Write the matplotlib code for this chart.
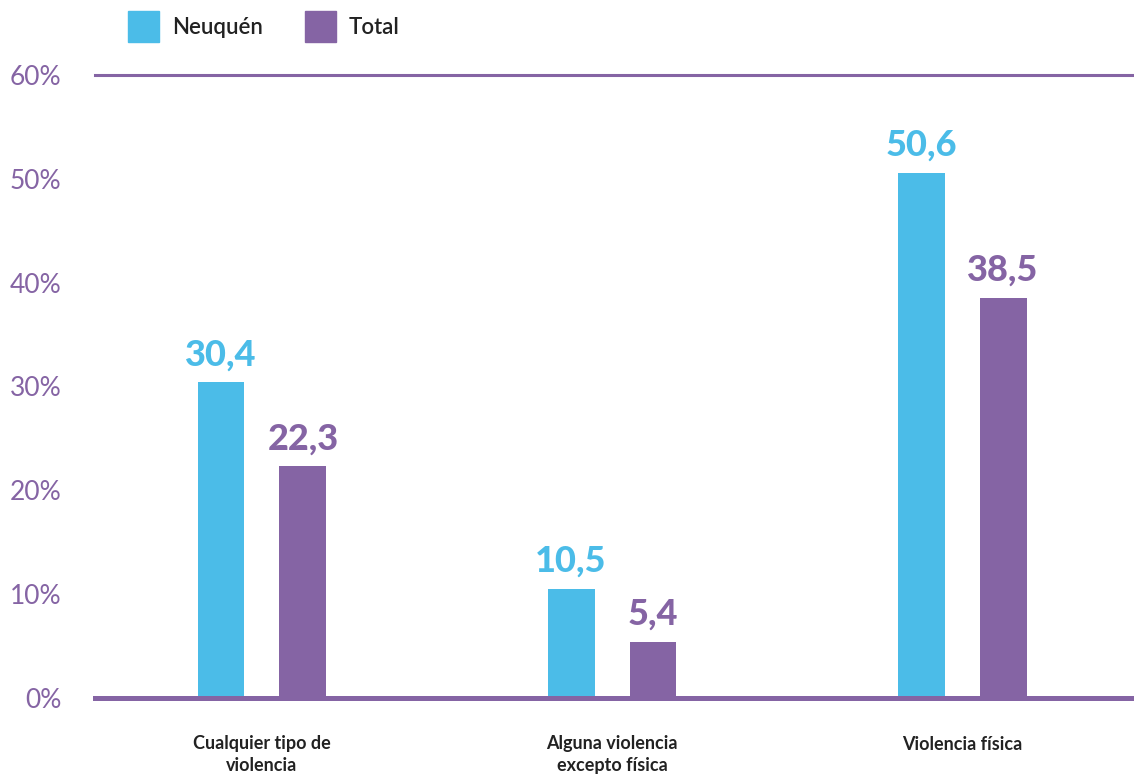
import matplotlib
matplotlib.use("Agg")
import numpy as np
from matplotlib import pyplot as plt
from matplotlib.patches import Rectangle

categories = ["Cualquier tipo de\nviolencia", "Alguna violencia\nexcepto física", "Violencia física"]
neuquen = [30.4, 10.5, 50.6]
total = [22.3, 5.4, 38.5]
series_names = ["Neuquén", "Total"]
yticks = [0, 10, 20, 30, 40, 50, 60]

BLUE = "#4BBCE8"
PURPLE = "#8564A4"
DARK = "#222222"

fig = plt.figure(figsize=(11.34, 7.78), dpi=100)
ax = fig.add_axes([95 / 1134, 80 / 778, 1 - 95 / 1134, 623 / 778])

x = np.arange(len(categories))
w = 0.134
off = 0.117
ax.bar(x - off, neuquen, w, color=BLUE, zorder=2)
ax.bar(x + off, total, w, color=PURPLE, zorder=2)

ax.axhline(0, color=PURPLE, lw=3.6, zorder=3, clip_on=False)
ax.axhline(60, color=PURPLE, lw=2.2, zorder=1, clip_on=False)

for xi, v in zip(x - off, neuquen):
    ax.annotate(f"{v:.1f}".replace(".", ","), (xi, v), xytext=(0, 8), textcoords="offset points",
                ha="center", va="bottom", fontsize=26, fontweight="black", family="Lato", color=BLUE)
for xi, v in zip(x + off, total):
    ax.annotate(f"{v:.1f}".replace(".", ","), (xi, v), xytext=(0, 8), textcoords="offset points",
                ha="center", va="bottom", fontsize=26, fontweight="black", family="Lato", color=PURPLE)

ax.set_xlim(-0.477, 2.491)
ax.set_ylim(0, 60)
ax.set_yticks(yticks)
ax.set_yticklabels([f"{t}%" for t in yticks], fontsize=19, color=PURPLE, family="Lato")
ax.tick_params(axis="y", length=0, pad=24)
ax.set_xticks(x)
ax.set_xticklabels(categories, fontsize=13, fontweight="bold", color=DARK, family="Lato", linespacing=1.3)
ax.tick_params(axis="x", length=0, pad=27)
for s in ax.spines.values():
    s.set_visible(False)

# legend
for i, (name, col) in enumerate(zip(series_names, [BLUE, PURPLE])):
    x0 = (128 + i * 177) / 1134
    fig.patches.append(Rectangle((x0, 1 - 42 / 778), 31 / 1134, 31 / 778,
                                 transform=fig.transFigure, color=col, figure=fig))
    fig.text(x0 + 44 / 1134, 1 - 28 / 778, name, fontsize=16, color=DARK, family="Lato",
             fontweight="semibold", va="center", ha="left")

fig.savefig("out.png", dpi=100)
